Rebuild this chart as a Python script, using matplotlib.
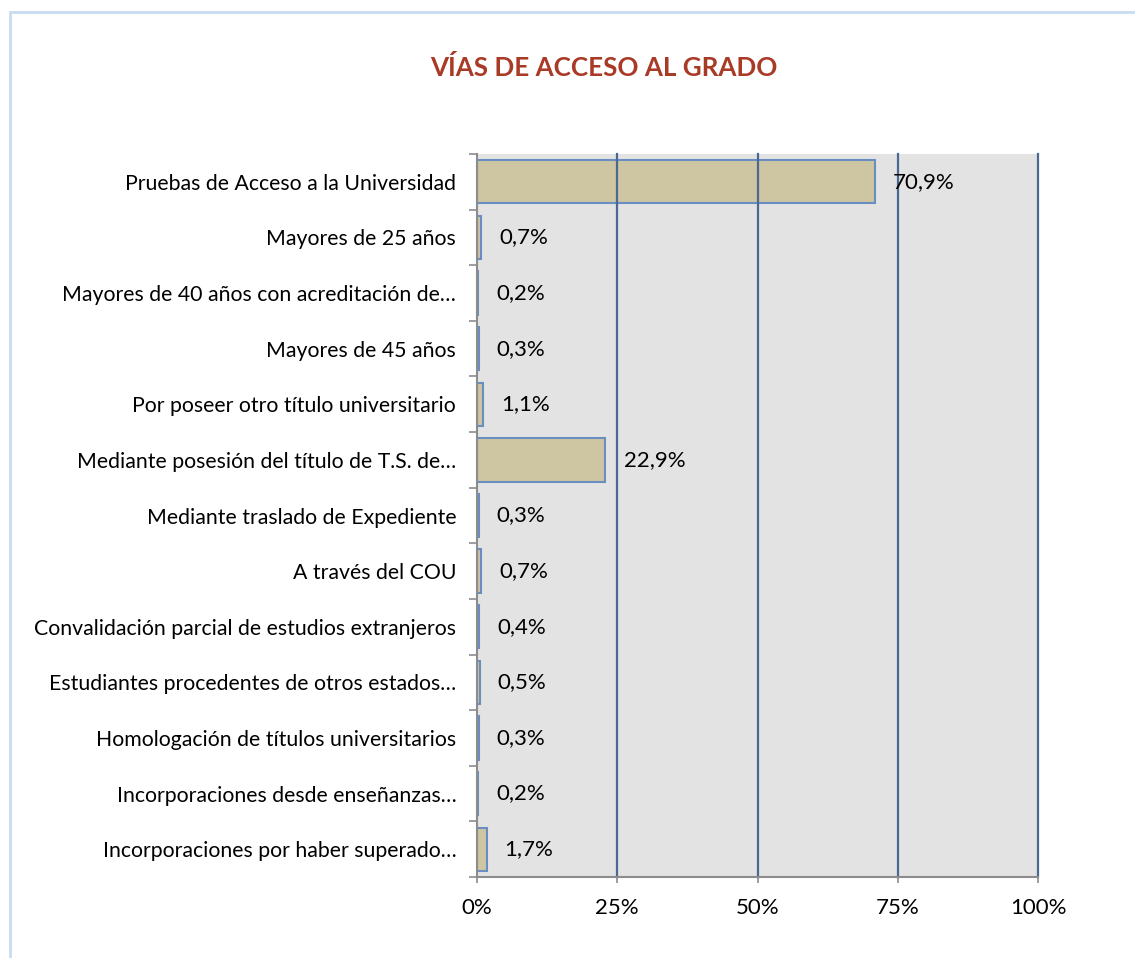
import matplotlib
matplotlib.use("Agg")
import matplotlib.pyplot as plt
from matplotlib.patches import Rectangle
from matplotlib.ticker import FixedLocator

categories = [
    "Pruebas de Acceso a la Universidad",
    "Mayores de 25 años",
    "Mayores de 40 años con acreditación de…",
    "Mayores de 45 años",
    "Por poseer otro título universitario",
    "Mediante posesión del título de T.S. de…",
    "Mediante traslado de Expediente",
    "A través del COU",
    "Convalidación parcial de estudios extranjeros",
    "Estudiantes procedentes de otros estados…",
    "Homologación de títulos universitarios",
    "Incorporaciones desde enseñanzas…",
    "Incorporaciones por haber superado…",
]
values = [70.9, 0.7, 0.2, 0.3, 1.1, 22.9, 0.3, 0.7, 0.4, 0.5, 0.3, 0.2, 1.7]
value_labels = ["70,9%", "0,7%", "0,2%", "0,3%", "1,1%", "22,9%", "0,3%",
                "0,7%", "0,4%", "0,5%", "0,3%", "0,2%", "1,7%"]
xticks = [0, 25, 50, 75, 100]
xtick_labels = ["0%", "25%", "50%", "75%", "100%"]
title = "VÍAS DE ACCESO AL GRADO"

plt.rcParams['font.family'] = ['Lato', 'DejaVu Sans']

W, H = 1135, 958
fig = plt.figure(figsize=(W / 100, H / 100), dpi=100)
fig.patch.set_facecolor("white")

# outer chart border
fig.patches.append(Rectangle((10 / W, -0.05), 1.2, (H - 12) / H + 0.05,
                             transform=fig.transFigure, fill=False,
                             edgecolor="#C9DBF2", linewidth=2.0, zorder=0))

ax = fig.add_axes([477 / W, (H - 877) / H, (1038 - 477) / W, (877 - 154) / H])
ax.set_facecolor("#E3E3E3")

ypos = list(range(len(categories)))
ax.barh(ypos, values, height=0.78, color="#CEC6A2", edgecolor="#6B8EC2",
        linewidth=1.5, zorder=2)

for x in xticks[1:]:
    ax.axvline(x, color="#4A6890", linewidth=1.6, zorder=3, clip_on=False)

for y, v, lab in zip(ypos, values, value_labels):
    ax.annotate(lab, xy=(v, y), xytext=(13, 0), textcoords="offset points",
                va="center", ha="left", fontsize=16, color="black")

ax.set_xlim(0, 100)
ax.set_ylim(len(categories) - 0.5, -0.5)
ax.set_xticks(xticks)
ax.set_xticklabels(xtick_labels, fontsize=16)
ax.set_yticks(ypos)
ax.set_yticklabels(categories, fontsize=15.3)
ax.yaxis.set_minor_locator(FixedLocator([i - 0.5 for i in range(len(categories) + 1)]))
ax.tick_params(axis="y", which="major", length=0, pad=15)
ax.tick_params(axis="y", which="minor", length=6, width=1.2, color="#8C8C8C", direction="out")
ax.tick_params(axis="x", which="major", length=4, width=1.2, color="#8C8C8C", pad=11)

for s in ["top", "right"]:
    ax.spines[s].set_visible(False)
for s in ["left", "bottom"]:
    ax.spines[s].set_color("#8C8C8C")
    ax.spines[s].set_linewidth(1.5)
    ax.spines[s].set_zorder(4)

fig.text(604 / W, 1 - 67 / H, title, ha="center", va="center",
         fontsize=18.7, fontweight="bold", color="#A93A26")

fig.savefig("out.png", dpi=100)
